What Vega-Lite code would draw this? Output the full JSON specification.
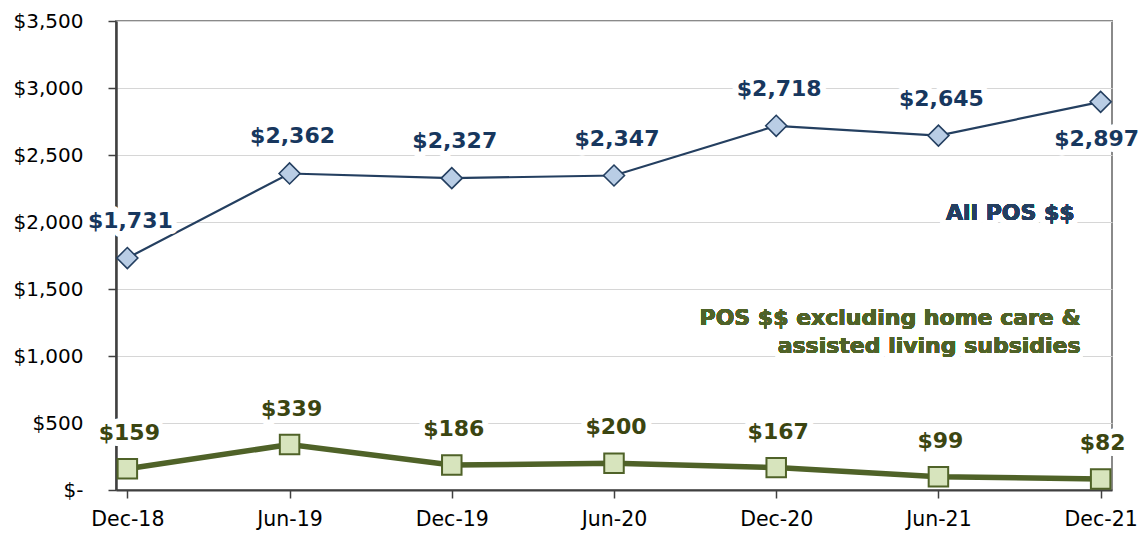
{
  "$schema": "https://vega.github.io/schema/vega-lite/v6.json",
  "autosize": "none",
  "width": 996,
  "height": 469,
  "padding": {"left": 116, "top": 21, "right": 26, "bottom": 47},
  "background": "white",
  "config": {
    "view": {"stroke": "#8a8a8a", "strokeWidth": 2},
    "font": "DejaVu Sans"
  },
  "data": {
    "values": [
      {"period": "Dec-18", "series": "All", "value": 1731},
      {"period": "Jun-19", "series": "All", "value": 2362},
      {"period": "Dec-19", "series": "All", "value": 2327},
      {"period": "Jun-20", "series": "All", "value": 2347},
      {"period": "Dec-20", "series": "All", "value": 2718},
      {"period": "Jun-21", "series": "All", "value": 2645},
      {"period": "Dec-21", "series": "All", "value": 2897},
      {"period": "Dec-18", "series": "Excl", "value": 159},
      {"period": "Jun-19", "series": "Excl", "value": 339},
      {"period": "Dec-19", "series": "Excl", "value": 186},
      {"period": "Jun-20", "series": "Excl", "value": 200},
      {"period": "Dec-20", "series": "Excl", "value": 167},
      {"period": "Jun-21", "series": "Excl", "value": 99},
      {"period": "Dec-21", "series": "Excl", "value": 82}
    ]
  },
  "encoding": {
    "x": {
      "field": "period", "type": "ordinal", "sort": null,
      "scale": {"type": "point", "padding": 0.07},
      "axis": {
        "title": null, "labelAngle": 0, "labelFont": "DejaVu Sans", "labelFontSize": 20.5,
        "labelColor": "#000", "domainColor": "#404040", "domainWidth": 2,
        "tickColor": "#404040", "tickSize": 8, "tickWidth": 1.5, "labelPadding": 11,
        "grid": false
      }
    },
    "y": {
      "field": "value", "type": "quantitative",
      "scale": {"domain": [0, 3500], "nice": false},
      "axis": {
        "title": null, "values": [0, 500, 1000, 1500, 2000, 2500, 3000, 3500],
        "labelExpr": "datum.value == 0 ? '$-' : '$' + format(datum.value, ',')",
        "labelFont": "DejaVu Sans", "labelFontSize": 20, "labelColor": "#000",
        "domainColor": "#404040", "domainWidth": 2.5,
        "tickColor": "#404040", "tickSize": 8, "tickWidth": 1.5, "labelPadding": 25,
        "gridColor": "#d6d6d6", "gridWidth": 1.2
      }
    }
  },
  "layer": [
    {
      "transform": [{"filter": "datum.series == 'All'"}],
      "mark": {"type": "line", "color": "#243f60", "strokeWidth": 2.2}
    },
    {
      "transform": [{"filter": "datum.series == 'Excl'"}],
      "mark": {"type": "line", "color": "#4f6228", "strokeWidth": 5.5}
    },
    {
      "transform": [{"filter": "datum.series == 'All' && datum.period != 'Dec-21'"}],
      "mark": {"type": "text", "dy": -37, "dx": 3, "fontSize": 22, "fontWeight": "bold", "fill": "white", "stroke": "white", "strokeWidth": 12, "strokeJoin": "round"},
      "encoding": {"text": {"field": "value", "type": "quantitative", "format": "$,.0f"}}
    },
    {
      "transform": [{"filter": "datum.series == 'All' && datum.period == 'Dec-21'"}],
      "mark": {"type": "text", "dy": 37, "dx": -4, "fontSize": 22, "fontWeight": "bold", "fill": "white", "stroke": "white", "strokeWidth": 12, "strokeJoin": "round"},
      "encoding": {"text": {"field": "value", "type": "quantitative", "format": "$,.0f"}}
    },
    {
      "transform": [{"filter": "datum.series == 'Excl'"}],
      "mark": {"type": "text", "dy": -36, "dx": 2, "fontSize": 22, "fontWeight": "bold", "fill": "white", "stroke": "white", "strokeWidth": 12, "strokeJoin": "round"},
      "encoding": {"text": {"field": "value", "type": "quantitative", "format": "$,.0f"}}
    },
    {
      "transform": [{"filter": "datum.series == 'All'"}],
      "mark": {"type": "point", "shape": "diamond", "size": 440, "filled": true, "fill": "#b9cde5", "stroke": "#243f60", "strokeWidth": 1.6, "opacity": 1}
    },
    {
      "transform": [{"filter": "datum.series == 'Excl'"}],
      "mark": {"type": "point", "shape": "square", "size": 380, "filled": true, "fill": "#d7e4bd", "stroke": "#4f6228", "strokeWidth": 2, "opacity": 1}
    },
    {
      "transform": [{"filter": "datum.series == 'All' && datum.period != 'Dec-21'"}],
      "mark": {"type": "text", "dy": -37, "dx": 3, "fontSize": 22, "fontWeight": "bold", "color": "#17375e"},
      "encoding": {"text": {"field": "value", "type": "quantitative", "format": "$,.0f"}}
    },
    {
      "transform": [{"filter": "datum.series == 'All' && datum.period == 'Dec-21'"}],
      "mark": {"type": "text", "dy": 37, "dx": -4, "fontSize": 22, "fontWeight": "bold", "color": "#17375e"},
      "encoding": {"text": {"field": "value", "type": "quantitative", "format": "$,.0f"}}
    },
    {
      "transform": [{"filter": "datum.series == 'Excl'"}],
      "mark": {"type": "text", "dy": -36, "dx": 2, "fontSize": 22, "fontWeight": "bold", "color": "#3b4511"},
      "encoding": {"text": {"field": "value", "type": "quantitative", "format": "$,.0f"}}
    },
    {
      "mark": {"type": "text", "align": "right", "dx": -26, "fontSize": 22, "fontWeight": "bold", "fill": "white", "stroke": "white", "strokeWidth": 12, "strokeJoin": "round", "text": "All POS $$"},
      "encoding": {"x": {"datum": "Dec-21"}, "y": {"datum": 2070}}
    },
    {
      "mark": {"type": "text", "align": "right", "dx": -26, "fontSize": 22, "fontWeight": "bold", "color": "#243f60", "text": "All POS $$"},
      "encoding": {"x": {"datum": "Dec-21"}, "y": {"datum": 2070}}
    },
    {
      "mark": {"type": "text", "align": "right", "dx": -20, "lineHeight": 28, "baseline": "middle", "fontSize": 22, "fontWeight": "bold", "fill": "white", "stroke": "white", "strokeWidth": 12, "strokeJoin": "round", "text": ["POS $$ excluding home care &", "assisted living subsidies"]},
      "encoding": {"x": {"datum": "Dec-21"}, "y": {"datum": 1280}}
    },
    {
      "mark": {"type": "text", "align": "right", "dx": -20, "lineHeight": 28, "baseline": "middle", "fontSize": 22, "fontWeight": "bold", "color": "#4f6228", "text": ["POS $$ excluding home care &", "assisted living subsidies"]},
      "encoding": {"x": {"datum": "Dec-21"}, "y": {"datum": 1280}}
    }
  ]
}
